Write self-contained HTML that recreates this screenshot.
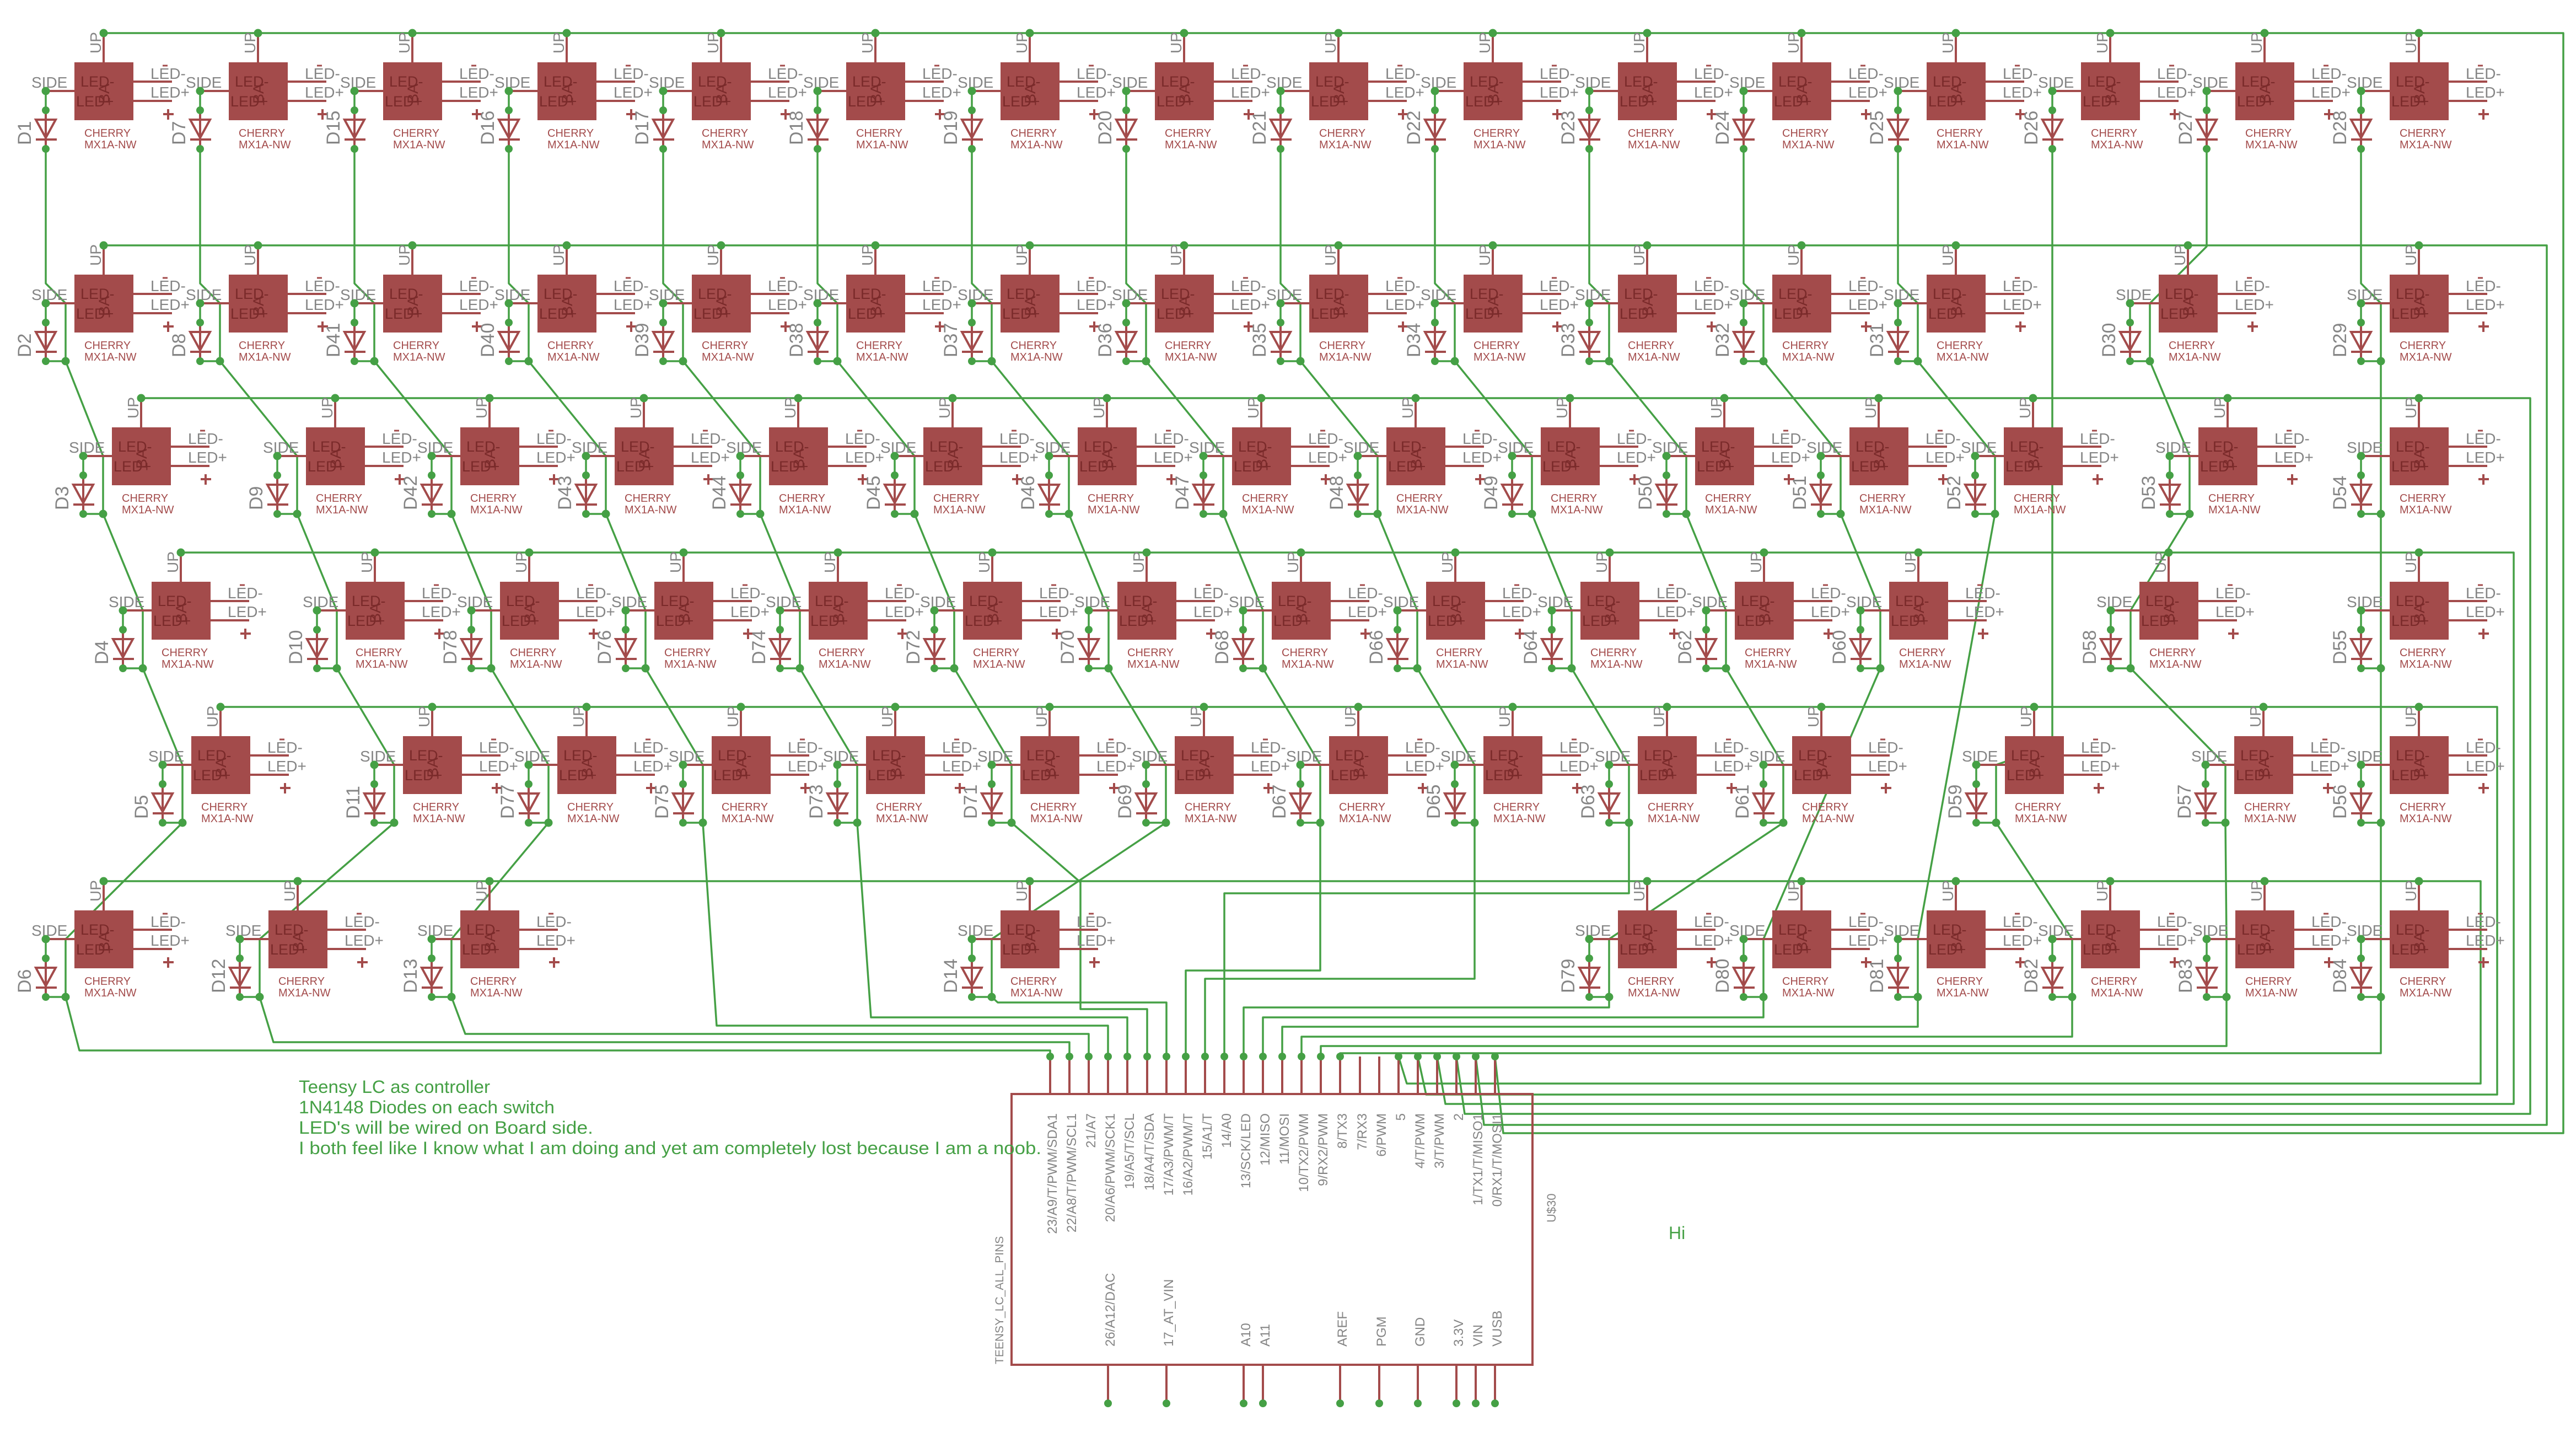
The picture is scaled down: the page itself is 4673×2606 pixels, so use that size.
<!DOCTYPE html>
<html><head><meta charset="utf-8"><style>
html,body{margin:0;padding:0;background:#fff}
svg{display:block}
text{font-family:"Liberation Sans",sans-serif}
.g{fill:#858585;font-size:28px}
.d{fill:#858585;font-size:34px}
.r{fill:#a34b4b;font-size:20px}
.i{fill:#7a2a2a;font-size:27px}
.w{fill:none;stroke:#45a045;stroke-width:3.5;stroke-linejoin:round}
.p{stroke:#a34b4b;stroke-width:4}
.t{fill:#858585;font-size:24px}
.c{fill:#45a045;font-size:32px}
</style></head><body>
<svg width="4673" height="2606" viewBox="0 0 4673 2606" xmlns="http://www.w3.org/2000/svg" xmlns:xlink="http://www.w3.org/1999/xlink">
<rect width="4673" height="2606" fill="#fff"/>
<defs>
<g id="sw">
<line class="p" x1="0" y1="0" x2="0" y2="53"/>
<rect x="-53" y="53" width="107" height="105" fill="#a34b4b"/>
<text class="i" x="-42" y="97">LED-</text>
<text class="i" x="-50" y="133">LED+</text>
<text class="i" x="0" y="118" transform="rotate(-90 10 118)">BA</text>
<line class="p" x1="-105" y1="105" x2="-53" y2="105"/>
<text class="g" x="-131" y="99">SIDE</text>
<text class="g" transform="translate(-5,37) rotate(-90)">UP</text>
<line class="p" x1="54" y1="88" x2="124" y2="88"/>
<line class="p" x1="54" y1="123" x2="124" y2="123"/>
<text class="g" x="85" y="83">LED-</text>
<line x1="107" y1="59" x2="116" y2="59" stroke="#a34b4b" stroke-width="3"/>
<text class="g" x="85" y="117">LED+</text>
<line class="p" x1="108" y1="147" x2="127" y2="147"/>
<line class="p" x1="117" y1="138" x2="117" y2="157"/>
<line class="p" x1="-105" y1="140" x2="-105" y2="210"/>
<polygon points="-123,157 -87,157 -105,190" fill="none" stroke="#a34b4b" stroke-width="4"/>
<line class="p" x1="-123" y1="193" x2="-85" y2="193"/>
<line x1="-105" y1="105" x2="-105" y2="140" stroke="#45a045" stroke-width="3.5"/>
<circle cx="0" cy="0" r="7.5" fill="#45a045"/>
<circle cx="-105" cy="105" r="7.5" fill="#45a045"/>
<circle cx="-105" cy="140" r="7" fill="#45a045"/>
<circle cx="-105" cy="210" r="7" fill="#45a045"/>
<text class="r" x="-35" y="188">CHERRY</text>
<text class="r" x="-35" y="209">MX1A-NW</text>
</g>
<g id="swj">
<use href="#sw" xlink:href="#sw"/>
<line x1="-105" y1="210" x2="-69" y2="210" stroke="#45a045" stroke-width="3.5"/>
<circle cx="-69" cy="210" r="7.5" fill="#45a045"/>
</g>
</defs>

<!-- row UP buses -->
<polyline class="w" points="188,60 4650,60 4650,2055 2727,2055 2712,1916"/>
<polyline class="w" points="188,445 4620,445 4620,2040 2692,2040 2677,1916"/>
<polyline class="w" points="256,722 4590,722 4590,2020 2657,2020 2642,1916"/>
<polyline class="w" points="328,1002 4560,1002 4560,2002 2622,2002 2607,1916"/>
<polyline class="w" points="400,1282 4530,1282 4530,1985 2587,1985 2572,1916"/>
<polyline class="w" points="188,1598 4500,1598 4500,1965 2552,1965 2537,1916"/>

<!-- column buses -->
<polyline class="w" points="83,270 83,514 119,550 119,655 187,827 187,932 259,1107 259,1212 331,1387 331,1492 119,1703 119,1808 144,1905 1905,1905 1905,1916"/>
<polyline class="w" points="363,270 363,514 399,550 399,655 539,827 539,932 611,1107 611,1212 715,1387 715,1492 471,1703 471,1808 496,1890 1940,1890 1940,1916"/>
<polyline class="w" points="643,270 643,514 679,550 679,655 819,827 819,932 891,1107 891,1212 995,1387 995,1492 819,1703 819,1808 844,1875 1975,1875 1975,1916"/>
<polyline class="w" points="923,270 923,514 959,550 959,655 1099,827 1099,932 1171,1107 1171,1212 1275,1387 1275,1492 1300,1860 2010,1860 2010,1916"/>
<polyline class="w" points="1203,270 1203,514 1239,550 1239,655 1379,827 1379,932 1451,1107 1451,1212 1555,1387 1555,1492 1580,1845 2045,1845 2045,1916"/>
<polyline class="w" points="1483,270 1483,514 1519,550 1519,655 1659,827 1659,932 1731,1107 1731,1212 1835,1387 1835,1492 1960,1600 1960,1830 2081,1830 2081,1916"/>
<polyline class="w" points="1763,270 1763,514 1799,550 1799,655 1939,827 1939,932 2011,1107 2011,1212 2115,1387 2115,1492 1799,1703 1799,1808 1810,1818 2116,1818 2116,1916"/>
<polyline class="w" points="2043,270 2043,514 2079,550 2079,655 2219,827 2219,932 2291,1107 2291,1212 2395,1387 2395,1492 2395,1760 2151,1760 2151,1916"/>
<polyline class="w" points="2323,270 2323,514 2359,550 2359,655 2499,827 2499,932 2571,1107 2571,1212 2675,1387 2675,1492 2675,1775 2186,1775 2186,1916"/>
<polyline class="w" points="2603,270 2603,514 2639,550 2639,655 2779,827 2779,932 2851,1107 2851,1212 2955,1387 2955,1492 2955,1620 2221,1620 2221,1916"/>
<polyline class="w" points="2883,270 2883,514 2919,550 2919,655 3059,827 3059,932 3131,1107 3131,1212 3235,1387 3235,1492 2919,1703 2919,1808 2919,1827 2256,1827 2256,1916"/>
<polyline class="w" points="3163,270 3163,514 3199,550 3199,655 3339,827 3339,932 3411,1107 3411,1212 3199,1703 3199,1808 3199,1845 2291,1845 2291,1916"/>
<polyline class="w" points="3443,270 3443,514 3479,550 3479,655 3619,827 3619,932 3479,1703 3479,1808 3479,1862 2326,1862 2326,1916"/>
<polyline class="w" points="3723,270 3723,1352 3621,1387 3621,1492 3759,1703 3759,1808 3759,1880 2361,1880 2361,1916"/>
<polyline class="w" points="4003,270 4003,447 3900,550 3900,655 3972,827 3972,932 3865,1107 3865,1212 4037,1387 4037,1492 4039,1703 4039,1808 4039,1897 2396,1897 2396,1916"/>
<polyline class="w" points="4283,270 4283,514 4319,550 4319,1808 4319,1910 2431,1910 2431,1916"/>

<!-- row 1 -->
<use href="#sw" xlink:href="#sw" x="188" y="60"/><use href="#sw" xlink:href="#sw" x="468" y="60"/><use href="#sw" xlink:href="#sw" x="748" y="60"/><use href="#sw" xlink:href="#sw" x="1028" y="60"/>
<use href="#sw" xlink:href="#sw" x="1308" y="60"/><use href="#sw" xlink:href="#sw" x="1588" y="60"/><use href="#sw" xlink:href="#sw" x="1868" y="60"/><use href="#sw" xlink:href="#sw" x="2148" y="60"/>
<use href="#sw" xlink:href="#sw" x="2428" y="60"/><use href="#sw" xlink:href="#sw" x="2708" y="60"/><use href="#sw" xlink:href="#sw" x="2988" y="60"/><use href="#sw" xlink:href="#sw" x="3268" y="60"/>
<use href="#sw" xlink:href="#sw" x="3548" y="60"/><use href="#sw" xlink:href="#sw" x="3828" y="60"/><use href="#sw" xlink:href="#sw" x="4108" y="60"/><use href="#sw" xlink:href="#sw" x="4388" y="60"/>
<!-- row 2 -->
<use href="#swj" xlink:href="#swj" x="188" y="445"/><use href="#swj" xlink:href="#swj" x="468" y="445"/><use href="#swj" xlink:href="#swj" x="748" y="445"/><use href="#swj" xlink:href="#swj" x="1028" y="445"/>
<use href="#swj" xlink:href="#swj" x="1308" y="445"/><use href="#swj" xlink:href="#swj" x="1588" y="445"/><use href="#swj" xlink:href="#swj" x="1868" y="445"/><use href="#swj" xlink:href="#swj" x="2148" y="445"/>
<use href="#swj" xlink:href="#swj" x="2428" y="445"/><use href="#swj" xlink:href="#swj" x="2708" y="445"/><use href="#swj" xlink:href="#swj" x="2988" y="445"/><use href="#swj" xlink:href="#swj" x="3268" y="445"/>
<use href="#swj" xlink:href="#swj" x="3548" y="445"/><use href="#swj" xlink:href="#swj" x="3969" y="445"/><use href="#swj" xlink:href="#swj" x="4388" y="445"/>
<!-- row 3 -->
<use href="#swj" xlink:href="#swj" x="256" y="722"/><use href="#swj" xlink:href="#swj" x="608" y="722"/><use href="#swj" xlink:href="#swj" x="888" y="722"/><use href="#swj" xlink:href="#swj" x="1168" y="722"/>
<use href="#swj" xlink:href="#swj" x="1448" y="722"/><use href="#swj" xlink:href="#swj" x="1728" y="722"/><use href="#swj" xlink:href="#swj" x="2008" y="722"/><use href="#swj" xlink:href="#swj" x="2288" y="722"/>
<use href="#swj" xlink:href="#swj" x="2568" y="722"/><use href="#swj" xlink:href="#swj" x="2848" y="722"/><use href="#swj" xlink:href="#swj" x="3128" y="722"/><use href="#swj" xlink:href="#swj" x="3408" y="722"/>
<use href="#swj" xlink:href="#swj" x="3688" y="722"/><use href="#swj" xlink:href="#swj" x="4041" y="722"/><use href="#swj" xlink:href="#swj" x="4388" y="722"/>
<!-- row 4 -->
<use href="#swj" xlink:href="#swj" x="328" y="1002"/><use href="#swj" xlink:href="#swj" x="680" y="1002"/><use href="#swj" xlink:href="#swj" x="960" y="1002"/><use href="#swj" xlink:href="#swj" x="1240" y="1002"/>
<use href="#swj" xlink:href="#swj" x="1520" y="1002"/><use href="#swj" xlink:href="#swj" x="1800" y="1002"/><use href="#swj" xlink:href="#swj" x="2080" y="1002"/><use href="#swj" xlink:href="#swj" x="2360" y="1002"/>
<use href="#swj" xlink:href="#swj" x="2640" y="1002"/><use href="#swj" xlink:href="#swj" x="2920" y="1002"/><use href="#swj" xlink:href="#swj" x="3200" y="1002"/><use href="#swj" xlink:href="#swj" x="3480" y="1002"/>
<use href="#swj" xlink:href="#swj" x="3934" y="1002"/><use href="#swj" xlink:href="#swj" x="4388" y="1002"/>
<!-- row 5 -->
<use href="#swj" xlink:href="#swj" x="400" y="1282"/><use href="#swj" xlink:href="#swj" x="784" y="1282"/><use href="#swj" xlink:href="#swj" x="1064" y="1282"/><use href="#swj" xlink:href="#swj" x="1344" y="1282"/>
<use href="#swj" xlink:href="#swj" x="1624" y="1282"/><use href="#swj" xlink:href="#swj" x="1904" y="1282"/><use href="#swj" xlink:href="#swj" x="2184" y="1282"/><use href="#swj" xlink:href="#swj" x="2464" y="1282"/>
<use href="#swj" xlink:href="#swj" x="2744" y="1282"/><use href="#swj" xlink:href="#swj" x="3024" y="1282"/><use href="#swj" xlink:href="#swj" x="3304" y="1282"/><use href="#swj" xlink:href="#swj" x="3690" y="1282"/>
<use href="#swj" xlink:href="#swj" x="4106" y="1282"/><use href="#swj" xlink:href="#swj" x="4388" y="1282"/>
<!-- row 6 -->
<use href="#swj" xlink:href="#swj" x="188" y="1598"/><use href="#swj" xlink:href="#swj" x="540" y="1598"/><use href="#swj" xlink:href="#swj" x="888" y="1598"/><use href="#swj" xlink:href="#swj" x="1868" y="1598"/>
<use href="#swj" xlink:href="#swj" x="2988" y="1598"/><use href="#swj" xlink:href="#swj" x="3268" y="1598"/><use href="#swj" xlink:href="#swj" x="3548" y="1598"/><use href="#swj" xlink:href="#swj" x="3828" y="1598"/>
<use href="#swj" xlink:href="#swj" x="4108" y="1598"/><use href="#swj" xlink:href="#swj" x="4388" y="1598"/>

<!-- diode labels -->
<g class="d">
<text transform="translate(56,263) rotate(-90)">D1</text><text transform="translate(336,263) rotate(-90)">D7</text><text transform="translate(616,263) rotate(-90)">D15</text><text transform="translate(896,263) rotate(-90)">D16</text>
<text transform="translate(1176,263) rotate(-90)">D17</text><text transform="translate(1456,263) rotate(-90)">D18</text><text transform="translate(1736,263) rotate(-90)">D19</text><text transform="translate(2016,263) rotate(-90)">D20</text>
<text transform="translate(2296,263) rotate(-90)">D21</text><text transform="translate(2576,263) rotate(-90)">D22</text><text transform="translate(2856,263) rotate(-90)">D23</text><text transform="translate(3136,263) rotate(-90)">D24</text>
<text transform="translate(3416,263) rotate(-90)">D25</text><text transform="translate(3696,263) rotate(-90)">D26</text><text transform="translate(3976,263) rotate(-90)">D27</text><text transform="translate(4256,263) rotate(-90)">D28</text>

<text transform="translate(56,648) rotate(-90)">D2</text><text transform="translate(336,648) rotate(-90)">D8</text><text transform="translate(616,648) rotate(-90)">D41</text><text transform="translate(896,648) rotate(-90)">D40</text>
<text transform="translate(1176,648) rotate(-90)">D39</text><text transform="translate(1456,648) rotate(-90)">D38</text><text transform="translate(1736,648) rotate(-90)">D37</text><text transform="translate(2016,648) rotate(-90)">D36</text>
<text transform="translate(2296,648) rotate(-90)">D35</text><text transform="translate(2576,648) rotate(-90)">D34</text><text transform="translate(2856,648) rotate(-90)">D33</text><text transform="translate(3136,648) rotate(-90)">D32</text>
<text transform="translate(3416,648) rotate(-90)">D31</text><text transform="translate(3837,648) rotate(-90)">D30</text><text transform="translate(4256,648) rotate(-90)">D29</text>

<text transform="translate(124,925) rotate(-90)">D3</text><text transform="translate(476,925) rotate(-90)">D9</text><text transform="translate(756,925) rotate(-90)">D42</text><text transform="translate(1036,925) rotate(-90)">D43</text>
<text transform="translate(1316,925) rotate(-90)">D44</text><text transform="translate(1596,925) rotate(-90)">D45</text><text transform="translate(1876,925) rotate(-90)">D46</text><text transform="translate(2156,925) rotate(-90)">D47</text>
<text transform="translate(2436,925) rotate(-90)">D48</text><text transform="translate(2716,925) rotate(-90)">D49</text><text transform="translate(2996,925) rotate(-90)">D50</text><text transform="translate(3276,925) rotate(-90)">D51</text>
<text transform="translate(3556,925) rotate(-90)">D52</text><text transform="translate(3909,925) rotate(-90)">D53</text><text transform="translate(4256,925) rotate(-90)">D54</text>

<text transform="translate(196,1205) rotate(-90)">D4</text><text transform="translate(548,1205) rotate(-90)">D10</text><text transform="translate(828,1205) rotate(-90)">D78</text><text transform="translate(1108,1205) rotate(-90)">D76</text>
<text transform="translate(1388,1205) rotate(-90)">D74</text><text transform="translate(1668,1205) rotate(-90)">D72</text><text transform="translate(1948,1205) rotate(-90)">D70</text><text transform="translate(2228,1205) rotate(-90)">D68</text>
<text transform="translate(2508,1205) rotate(-90)">D66</text><text transform="translate(2788,1205) rotate(-90)">D64</text><text transform="translate(3068,1205) rotate(-90)">D62</text><text transform="translate(3348,1205) rotate(-90)">D60</text>
<text transform="translate(3802,1205) rotate(-90)">D58</text><text transform="translate(4256,1205) rotate(-90)">D55</text>

<text transform="translate(268,1485) rotate(-90)">D5</text><text transform="translate(652,1485) rotate(-90)">D11</text><text transform="translate(932,1485) rotate(-90)">D77</text><text transform="translate(1212,1485) rotate(-90)">D75</text>
<text transform="translate(1492,1485) rotate(-90)">D73</text><text transform="translate(1772,1485) rotate(-90)">D71</text><text transform="translate(2052,1485) rotate(-90)">D69</text><text transform="translate(2332,1485) rotate(-90)">D67</text>
<text transform="translate(2612,1485) rotate(-90)">D65</text><text transform="translate(2892,1485) rotate(-90)">D63</text><text transform="translate(3172,1485) rotate(-90)">D61</text><text transform="translate(3558,1485) rotate(-90)">D59</text>
<text transform="translate(3974,1485) rotate(-90)">D57</text><text transform="translate(4256,1485) rotate(-90)">D56</text>

<text transform="translate(56,1801) rotate(-90)">D6</text><text transform="translate(408,1801) rotate(-90)">D12</text><text transform="translate(756,1801) rotate(-90)">D13</text><text transform="translate(1736,1801) rotate(-90)">D14</text>
<text transform="translate(2856,1801) rotate(-90)">D79</text><text transform="translate(3136,1801) rotate(-90)">D80</text><text transform="translate(3416,1801) rotate(-90)">D81</text><text transform="translate(3696,1801) rotate(-90)">D82</text>
<text transform="translate(3976,1801) rotate(-90)">D83</text><text transform="translate(4256,1801) rotate(-90)">D84</text>
</g>

<!-- Teensy -->
<g stroke="#a34b4b" stroke-width="4">
<line x1="1905" y1="1916" x2="1905" y2="1984"/><line x1="1940" y1="1916" x2="1940" y2="1984"/><line x1="1975" y1="1916" x2="1975" y2="1984"/><line x1="2010" y1="1916" x2="2010" y2="1984"/>
<line x1="2045" y1="1916" x2="2045" y2="1984"/><line x1="2081" y1="1916" x2="2081" y2="1984"/><line x1="2116" y1="1916" x2="2116" y2="1984"/><line x1="2151" y1="1916" x2="2151" y2="1984"/>
<line x1="2186" y1="1916" x2="2186" y2="1984"/><line x1="2221" y1="1916" x2="2221" y2="1984"/><line x1="2256" y1="1916" x2="2256" y2="1984"/><line x1="2291" y1="1916" x2="2291" y2="1984"/>
<line x1="2326" y1="1916" x2="2326" y2="1984"/><line x1="2361" y1="1916" x2="2361" y2="1984"/><line x1="2396" y1="1916" x2="2396" y2="1984"/><line x1="2431" y1="1916" x2="2431" y2="1984"/>
<line x1="2467" y1="1916" x2="2467" y2="1984"/><line x1="2502" y1="1916" x2="2502" y2="1984"/><line x1="2537" y1="1916" x2="2537" y2="1984"/><line x1="2572" y1="1916" x2="2572" y2="1984"/>
<line x1="2607" y1="1916" x2="2607" y2="1984"/><line x1="2642" y1="1916" x2="2642" y2="1984"/><line x1="2677" y1="1916" x2="2677" y2="1984"/><line x1="2712" y1="1916" x2="2712" y2="1984"/>
<line x1="2010" y1="2475" x2="2010" y2="2545"/><line x1="2116" y1="2475" x2="2116" y2="2545"/><line x1="2256" y1="2475" x2="2256" y2="2545"/><line x1="2291" y1="2475" x2="2291" y2="2545"/>
<line x1="2431" y1="2475" x2="2431" y2="2545"/><line x1="2502" y1="2475" x2="2502" y2="2545"/><line x1="2572" y1="2475" x2="2572" y2="2545"/><line x1="2642" y1="2475" x2="2642" y2="2545"/>
<line x1="2677" y1="2475" x2="2677" y2="2545"/><line x1="2712" y1="2475" x2="2712" y2="2545"/>
<rect x="1835" y="1984" width="945" height="491" fill="none"/>
</g>
<g fill="#45a045">
<circle cx="1905" cy="1916" r="7"/><circle cx="1940" cy="1916" r="7"/><circle cx="1975" cy="1916" r="7"/><circle cx="2010" cy="1916" r="7"/>
<circle cx="2045" cy="1916" r="7"/><circle cx="2081" cy="1916" r="7"/><circle cx="2116" cy="1916" r="7"/><circle cx="2151" cy="1916" r="7"/>
<circle cx="2186" cy="1916" r="7"/><circle cx="2221" cy="1916" r="7"/><circle cx="2256" cy="1916" r="7"/><circle cx="2291" cy="1916" r="7"/>
<circle cx="2326" cy="1916" r="7"/><circle cx="2361" cy="1916" r="7"/><circle cx="2396" cy="1916" r="7"/><circle cx="2431" cy="1916" r="7"/>
<circle cx="2537" cy="1916" r="7"/><circle cx="2572" cy="1916" r="7"/><circle cx="2607" cy="1916" r="7"/><circle cx="2642" cy="1916" r="7"/>
<circle cx="2677" cy="1916" r="7"/><circle cx="2712" cy="1916" r="7"/>
<circle cx="2010" cy="2545" r="7"/><circle cx="2116" cy="2545" r="7"/><circle cx="2256" cy="2545" r="7"/><circle cx="2291" cy="2545" r="7"/>
<circle cx="2431" cy="2545" r="7"/><circle cx="2502" cy="2545" r="7"/><circle cx="2572" cy="2545" r="7"/><circle cx="2642" cy="2545" r="7"/>
<circle cx="2677" cy="2545" r="7"/><circle cx="2712" cy="2545" r="7"/>
</g>
<g class="t" text-anchor="end">
<text transform="translate(1917,2019) rotate(-90)">23/A9/T/PWM/SDA1</text>
<text transform="translate(1952,2019) rotate(-90)">22/A8/T/PWM/SCL1</text>
<text transform="translate(1987,2019) rotate(-90)">21/A7</text>
<text transform="translate(2022,2019) rotate(-90)">20/A6/PWM/SCK1</text>
<text transform="translate(2057,2019) rotate(-90)">19/A5/T/SCL</text>
<text transform="translate(2093,2019) rotate(-90)">18/A4/T/SDA</text>
<text transform="translate(2128,2019) rotate(-90)">17/A3/PWM/T</text>
<text transform="translate(2163,2019) rotate(-90)">16/A2/PWM/T</text>
<text transform="translate(2198,2019) rotate(-90)">15/A1/T</text>
<text transform="translate(2233,2019) rotate(-90)">14/A0</text>
<text transform="translate(2268,2019) rotate(-90)">13/SCK/LED</text>
<text transform="translate(2303,2019) rotate(-90)">12/MISO</text>
<text transform="translate(2338,2019) rotate(-90)">11/MOSI</text>
<text transform="translate(2373,2019) rotate(-90)">10/TX2/PWM</text>
<text transform="translate(2408,2019) rotate(-90)">9/RX2/PWM</text>
<text transform="translate(2443,2019) rotate(-90)">8/TX3</text>
<text transform="translate(2479,2019) rotate(-90)">7/RX3</text>
<text transform="translate(2514,2019) rotate(-90)">6/PWM</text>
<text transform="translate(2549,2019) rotate(-90)">5</text>
<text transform="translate(2584,2019) rotate(-90)">4/T/PWM</text>
<text transform="translate(2619,2019) rotate(-90)">3/T/PWM</text>
<text transform="translate(2654,2019) rotate(-90)">2</text>
<text transform="translate(2689,2019) rotate(-90)">1/TX1/T/MISO1</text>
<text transform="translate(2724,2019) rotate(-90)">0/RX1/T/MOSI1</text>
</g>
<g class="t">
<text transform="translate(2022,2442) rotate(-90)">26/A12/DAC</text>
<text transform="translate(2128,2442) rotate(-90)">17_AT_VIN</text>
<text transform="translate(2268,2442) rotate(-90)">A10</text>
<text transform="translate(2303,2442) rotate(-90)">A11</text>
<text transform="translate(2443,2442) rotate(-90)">AREF</text>
<text transform="translate(2514,2442) rotate(-90)">PGM</text>
<text transform="translate(2584,2442) rotate(-90)">GND</text>
<text transform="translate(2654,2442) rotate(-90)">3.3V</text>
<text transform="translate(2689,2442) rotate(-90)">VIN</text>
<text transform="translate(2724,2442) rotate(-90)">VUSB</text>
<text transform="translate(1820,2474) rotate(-90)" font-size="21">TEENSY_LC_ALL_PINS</text>
<text transform="translate(2822,2217) rotate(-90)" font-size="22">U$30</text>
</g>

<g class="c">
<text x="542" y="1982" textLength="347" lengthAdjust="spacingAndGlyphs">Teensy LC as controller</text>
<text x="542" y="2019" textLength="464" lengthAdjust="spacingAndGlyphs">1N4148 Diodes on each switch</text>
<text x="542" y="2056" textLength="534" lengthAdjust="spacingAndGlyphs">LED's will be wired on Board side.</text>
<text x="542" y="2093" textLength="1347" lengthAdjust="spacingAndGlyphs">I both feel like I know what I am doing and yet am completely lost because I am a noob.</text>
<text x="3027" y="2247">Hi</text>
</g>
</svg>
</body></html>
